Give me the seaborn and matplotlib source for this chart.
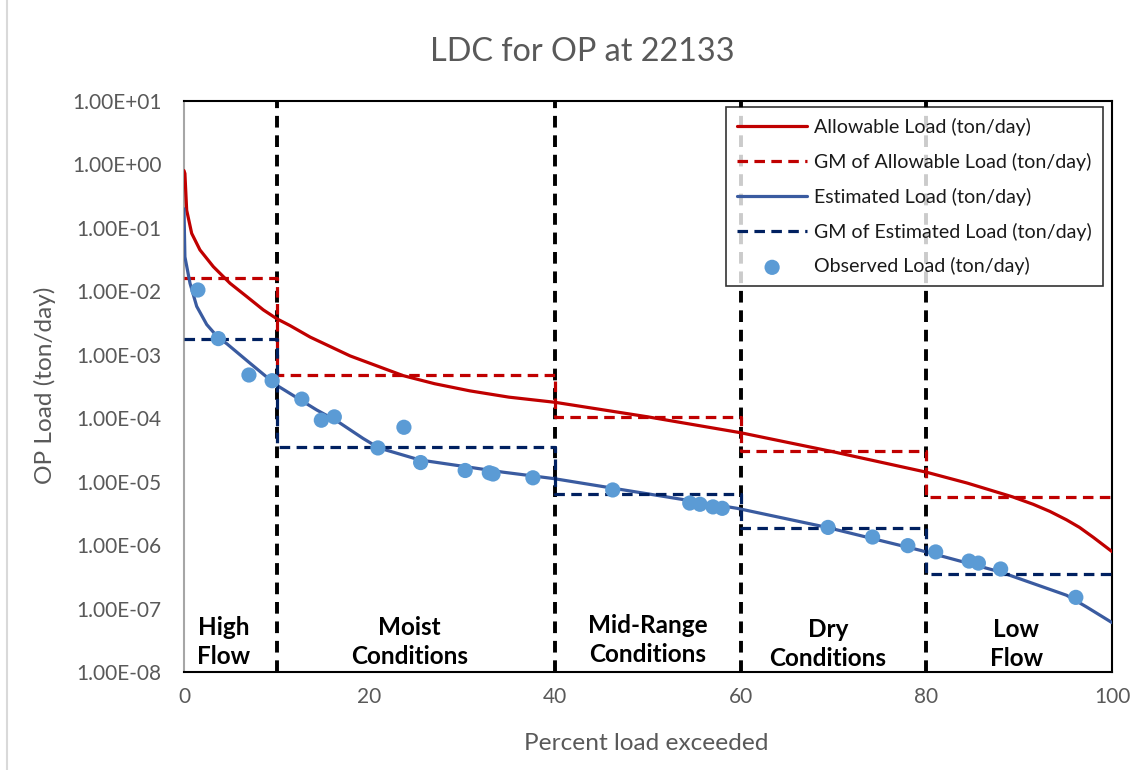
import numpy as np
import pandas as pd
import seaborn as sns
import matplotlib.pyplot as plt
from matplotlib.lines import Line2D
from matplotlib.ticker import FuncFormatter, FixedLocator

# allowable load duration curve (ton/day)
allow_x = [0, 0.1, 0.29, 0.83, 1.72, 3.16, 4.96, 6.75, 8.55, 10, 11.4, 13.6, 17.9,
           23.6, 27, 30.8, 35, 40, 50, 60, 70, 80, 84.4, 89.3, 91.5, 93.3, 95.1,
           96.5, 98, 100]
allow_y = [0.8, 0.72, 0.19, 0.082, 0.045, 0.0245, 0.0134, 0.0083, 0.0051, 0.0037,
           0.0029, 0.0019, 9.6e-4, 4.7e-4, 3.5e-4, 2.7e-4, 2.15e-4, 1.78e-4, 1.05e-4,
           5.9e-5, 2.95e-5, 1.41e-5, 9.5e-6, 5.75e-6, 4.4e-6, 3.4e-6, 2.5e-6,
           1.9e-6, 1.32e-6, 7.9e-7]

# estimated load duration curve (ton/day)
est_x = [0, 0.1, 0.65, 1.37, 2.45, 3.7, 4.6, 7.1, 10, 14.3, 16.5, 19.3, 21, 25.4,
         34.4, 39.8, 46.2, 59.6, 69.3, 79.3, 87.9, 95.1, 97.3, 100]
est_y = [0.2, 0.035, 0.0134, 0.0058, 0.0030, 0.00185, 1.5e-3, 7.4e-4, 3.3e-4,
         1.35e-4, 9e-5, 4.8e-5, 3.4e-5, 2.2e-5, 1.41e-5, 1.12e-5, 7.9e-6, 3.8e-6,
         1.9e-6, 8.3e-7, 3.8e-7, 1.62e-7, 1.05e-7, 6e-8]

# geometric means per flow zone
zone_edges = [0, 10, 40, 60, 80, 100]
gm_allow = [0.0162, 4.8e-4, 1.04e-4, 3.0e-5, 5.8e-6]
gm_est = [1.8e-3, 3.5e-5, 6.3e-6, 1.85e-6, 3.5e-7]

# observed loads
obs_x = [1.5, 3.7, 7.0, 9.5, 12.7, 14.8, 16.2, 23.7, 20.9, 25.5, 30.3, 32.9, 33.3,
         37.6, 46.2, 54.5, 55.6, 57.0, 58.0, 69.4, 74.2, 78.0, 81.0, 84.6, 85.6,
         88.0, 96.1]
obs_y = [1.05e-2, 1.8e-3, 4.8e-4, 3.9e-4, 2.0e-4, 9.3e-5, 1.05e-4, 7.2e-5, 3.4e-5,
         2.0e-5, 1.5e-5, 1.38e-5, 1.32e-5, 1.15e-5, 7.4e-6, 4.6e-6, 4.4e-6, 4.0e-6,
         3.8e-6, 1.9e-6, 1.34e-6, 9.8e-7, 7.8e-7, 5.6e-7, 5.2e-7, 4.2e-7, 1.5e-7]

zone_labels = ["High\nFlow", "Moist\nConditions", "Mid-Range\nConditions",
               "Dry\nConditions", "Low\nFlow"]
zone_label_x = [4.3, 24.3, 50.0, 69.4, 89.7]
zone_label_y = [2.96e-8, 2.96e-8, 3.19e-8, 2.76e-8, 2.76e-8]

sns.set_style("white")
plt.rcParams["font.family"] = ["Lato", "DejaVu Sans"]

gray = "#595959"
fig = plt.figure(figsize=(11.47, 7.7), dpi=100)
ax = fig.add_axes([0.1604, 0.1273, 0.8091, 0.7415])

allow_df = pd.DataFrame({"x": allow_x, "y": allow_y})
est_df = pd.DataFrame({"x": est_x, "y": est_y})
gm_a_df = pd.DataFrame({"x": zone_edges, "y": gm_allow + [gm_allow[-1]]})
gm_e_df = pd.DataFrame({"x": zone_edges, "y": gm_est + [gm_est[-1]]})
obs_df = pd.DataFrame({"x": obs_x, "y": obs_y})

for xv in zone_edges[1:-1]:
    ax.axvline(xv, color="black", lw=2.8, dashes=(3, 2), zorder=1)

sns.lineplot(data=allow_df, x="x", y="y", ax=ax, color="#C00000", lw=2.3,
             label="Allowable Load (ton/day)", zorder=3)
sns.lineplot(data=gm_a_df, x="x", y="y", ax=ax, color="#C00000", lw=2.3,
             drawstyle="steps-post", dashes=(3.3, 2), label="GM of Allowable Load (ton/day)", zorder=3)
sns.lineplot(data=est_df, x="x", y="y", ax=ax, color="#3A5BA0", lw=2.3,
             label="Estimated Load (ton/day)", zorder=3)
sns.lineplot(data=gm_e_df, x="x", y="y", ax=ax, color="#002060", lw=2.3,
             drawstyle="steps-post", dashes=(3.3, 2), label="GM of Estimated Load (ton/day)", zorder=3)
sns.scatterplot(data=obs_df, x="x", y="y", ax=ax, color="#5B9BD5", s=120,
                edgecolor="none", label="Observed Load (ton/day)", zorder=4)

ax.set_yscale("log")
ax.set_xlim(0, 100)
ax.set_ylim(1e-8, 1e1)
ax.yaxis.set_major_locator(FixedLocator([10.0 ** k for k in range(-8, 2)]))
ax.yaxis.set_minor_locator(FixedLocator([]))
ax.yaxis.set_major_formatter(FuncFormatter(lambda v, p: f"{v:.2E}"))
ax.set_xticks([0, 20, 40, 60, 80, 100])
ax.tick_params(axis="y", length=0, pad=16, labelsize=15, labelcolor=gray)
ax.tick_params(axis="x", length=0, pad=11, labelsize=15, labelcolor=gray)

for s in ["top", "right", "bottom"]:
    ax.spines[s].set_color("black")
    ax.spines[s].set_linewidth(1.5)
ax.spines["left"].set_color("#A6A6A6")
ax.spines["left"].set_linewidth(1.5)

for lab, lx, ly in zip(zone_labels, zone_label_x, zone_label_y):
    ax.text(lx, ly, lab, ha="center", va="center", fontsize=17.5,
            fontweight="bold", color="black", linespacing=1.3)

fig.text(0.508, 1 - 52 / 770, "LDC for OP at 22133", fontsize=23.3, color=gray,
         ha="center", va="center")
ax.set_xlabel("Percent load exceeded", fontsize=17.6, color=gray)
ax.set_ylabel("OP Load (ton/day)", fontsize=17.6, color=gray)
ax.xaxis.set_label_coords(0.4978, -0.107)
ax.yaxis.set_label_coords(-0.138, 0.502)

leg = ax.legend(loc="upper right", bbox_to_anchor=(0.99, 0.9895), borderaxespad=0,
                frameon=True, fancybox=False, edgecolor="black", fontsize=14.1,
                handlelength=3.6, handletextpad=0.35, labelspacing=0.86, borderpad=0.55)
leg.get_frame().set_linewidth(1.2)
for t in leg.get_texts():
    t.set_color("#1a1a1a")

fig.add_artist(Line2D([7 / 1147, 7 / 1147], [0, 1], color="#D9D9D9", lw=1.5))

fig.savefig("out.png", dpi=100)
